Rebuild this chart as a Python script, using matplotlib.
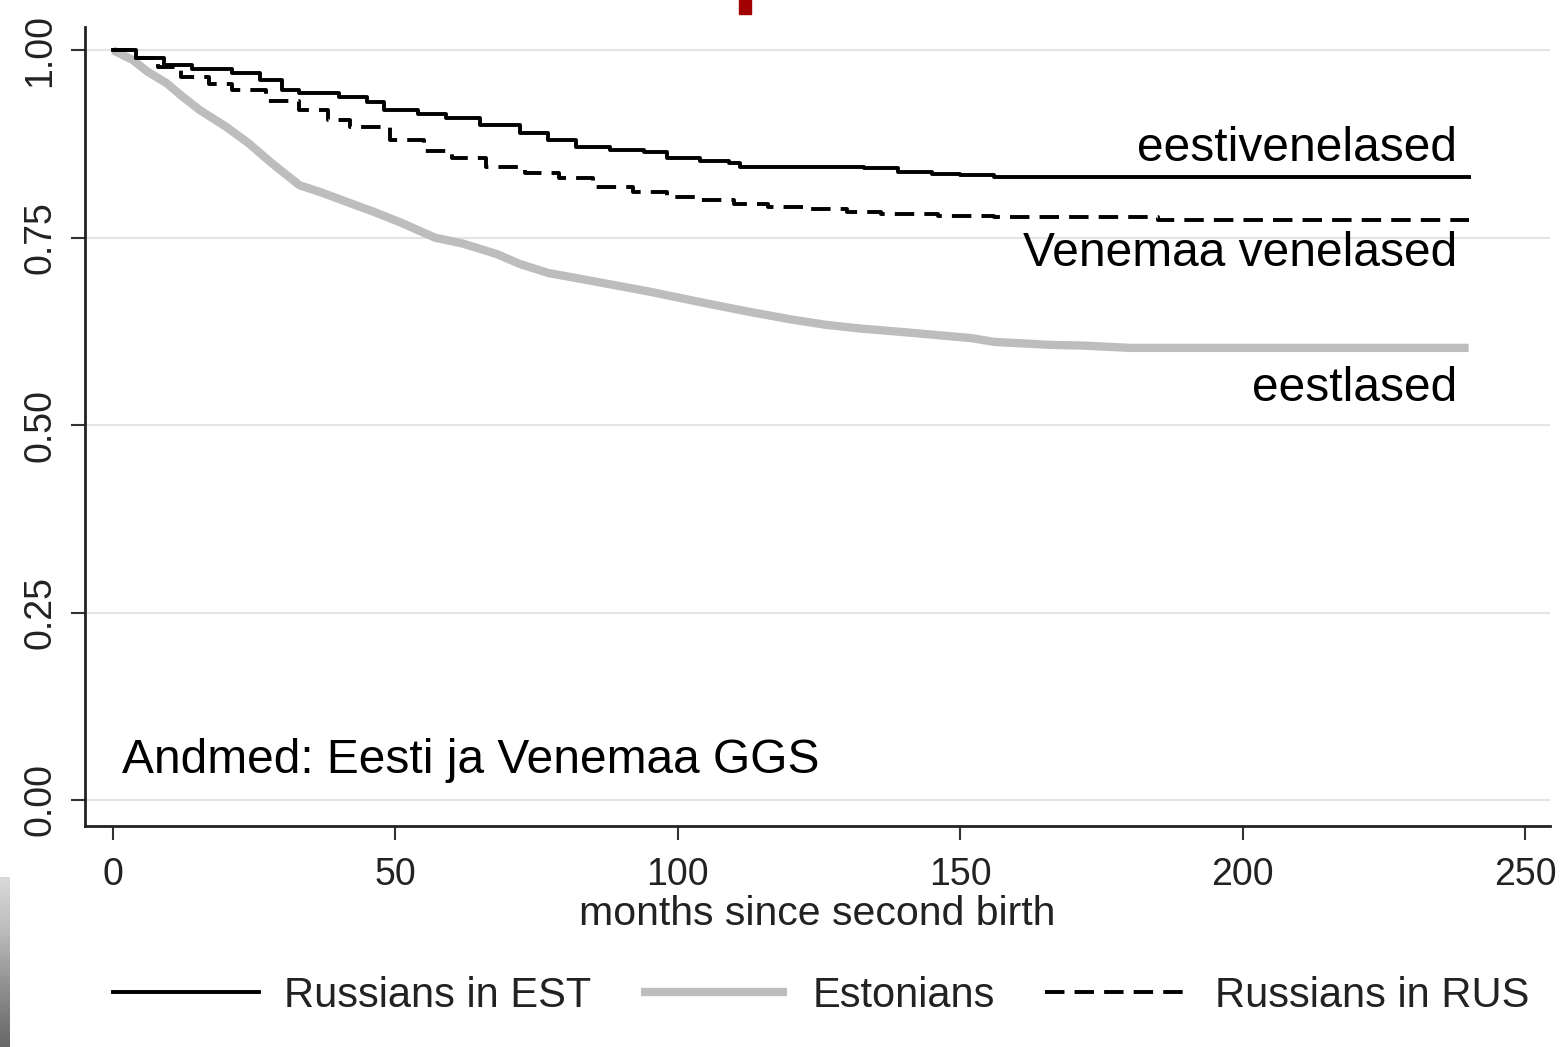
import numpy as np
import matplotlib.pyplot as plt
from matplotlib.patches import Rectangle

plt.rcParams['font.family'] = ['Liberation Sans', 'DejaVu Sans']

# survival curves (months, share)
est_rus_x = [0, 4, 9, 14, 21, 26, 30, 33, 40, 45, 48, 54, 59, 65, 72, 77, 82, 88, 94, 98,
             104, 109, 111, 133, 139, 145, 150, 156, 240]
est_rus_y = [1.0, 0.99, 0.98, 0.975, 0.969, 0.96, 0.947, 0.943, 0.937, 0.931, 0.92, 0.915,
             0.909, 0.9, 0.889, 0.88, 0.871, 0.867, 0.864, 0.856, 0.852, 0.849, 0.844, 0.843,
             0.837, 0.835, 0.833, 0.831, 0.831]

rus_rus_x = [0, 4, 8, 12, 17, 21, 27, 33, 38, 42, 49, 55, 60, 66, 73, 79, 85, 92, 98, 104,
             110, 116, 123, 130, 136, 146, 156, 185, 240]
rus_rus_y = [1.0, 0.99, 0.977, 0.964, 0.955, 0.947, 0.932, 0.92, 0.907, 0.897, 0.88, 0.866,
             0.856, 0.844, 0.836, 0.829, 0.818, 0.811, 0.804, 0.80, 0.795, 0.791, 0.788,
             0.784, 0.781, 0.779, 0.777, 0.774, 0.774]

est_x = [0, 3.5, 6, 9.5, 12, 15.4, 20, 24, 28, 33, 37, 42, 46, 51, 57, 62, 68, 72, 77, 85,
         95, 104, 112, 120, 126, 132, 140, 152, 156, 166, 172, 180, 200, 240]
est_y = [1.0, 0.987, 0.972, 0.956, 0.94, 0.92, 0.898, 0.876, 0.85, 0.82, 0.81, 0.796, 0.785,
         0.77, 0.75, 0.742, 0.728, 0.715, 0.703, 0.692, 0.678, 0.664, 0.652, 0.641, 0.634,
         0.629, 0.624, 0.616, 0.611, 0.607, 0.606, 0.603, 0.603, 0.603]

xticks = [0, 50, 100, 150, 200, 250]
yticks = [0.0, 0.25, 0.5, 0.75, 1.0]
ylabels = ['0.00', '0.25', '0.50', '0.75', '1.00']

fig = plt.figure(figsize=(15.65, 10.47), dpi=100)
ax = fig.add_axes([85/1565, 1-826/1047, (1550-85)/1565, (826-27)/1047])

for y in yticks:
    ax.axhline(y, color='#e4e4e4', lw=1.5, zorder=0)

ax.plot(est_x, est_y, color='#bdbdbd', lw=6, solid_capstyle='butt', label='Estonians', zorder=2)
ax.plot(rus_rus_x, rus_rus_y, color='black', lw=2.8, drawstyle='steps-post',
        dashes=(5, 2.6), label='Russians in RUS', zorder=3)
ax.plot(est_rus_x, est_rus_y, color='black', lw=2.8, drawstyle='steps-post',
        label='Russians in EST', zorder=4)

ax.set_xlim(-4.96, 254.4)
ax.set_ylim(-0.0347, 1.031)
ax.set_xticks(xticks)
ax.set_yticks(yticks)
ax.set_yticklabels(ylabels, rotation=90, va='center')
ax.tick_params(axis='both', direction='out', length=10, width=1.5, labelsize=27,
               labelcolor='#222222', color='#333333')
ax.tick_params(axis='y', pad=9)
ax.tick_params(axis='x', pad=12)
for s in ['top', 'right']:
    ax.spines[s].set_visible(False)
for s in ['left', 'bottom']:
    ax.spines[s].set_linewidth(2)
    ax.spines[s].set_color('#222222')
ax.set_xlabel('months since second birth', fontsize=29.5, color='#222222', labelpad=2)

ax.text(238, 0.869, 'eestivenelased', ha='right', va='center', fontsize=34.5)
ax.text(238, 0.729, 'Venemaa venelased', ha='right', va='center', fontsize=34.5)
ax.text(238, 0.549, 'eestlased', ha='right', va='center', fontsize=34.5)
ax.text(1.6, 0.053, 'Andmed: Eesti ja Venemaa GGS', ha='left', va='center', fontsize=34.5)

handles, labels = ax.get_legend_handles_labels()
order = [2, 0, 1]
fig.legend([handles[i] for i in order], [labels[i] for i in order], loc='center',
           bbox_to_anchor=(0.525, 1-996/1047), ncol=3, frameon=False, fontsize=30,
           handlelength=3.5, handletextpad=0.6, columnspacing=1.2, labelcolor='#222222')

# slide decorations
fig.patches.append(Rectangle((739/1565, 1-14/1047), 12/1565, 14/1047,
                             transform=fig.transFigure, color='#a00000', zorder=5))
gax = fig.add_axes([0, 0, 10/1565, 170/1047])
gax.imshow(np.linspace(0, 1, 50).reshape(-1, 1), cmap='Greys', vmin=-0.6, vmax=1.8,
           aspect='auto', origin='upper')
gax.axis('off')

fig.savefig('out.png', dpi=100)
